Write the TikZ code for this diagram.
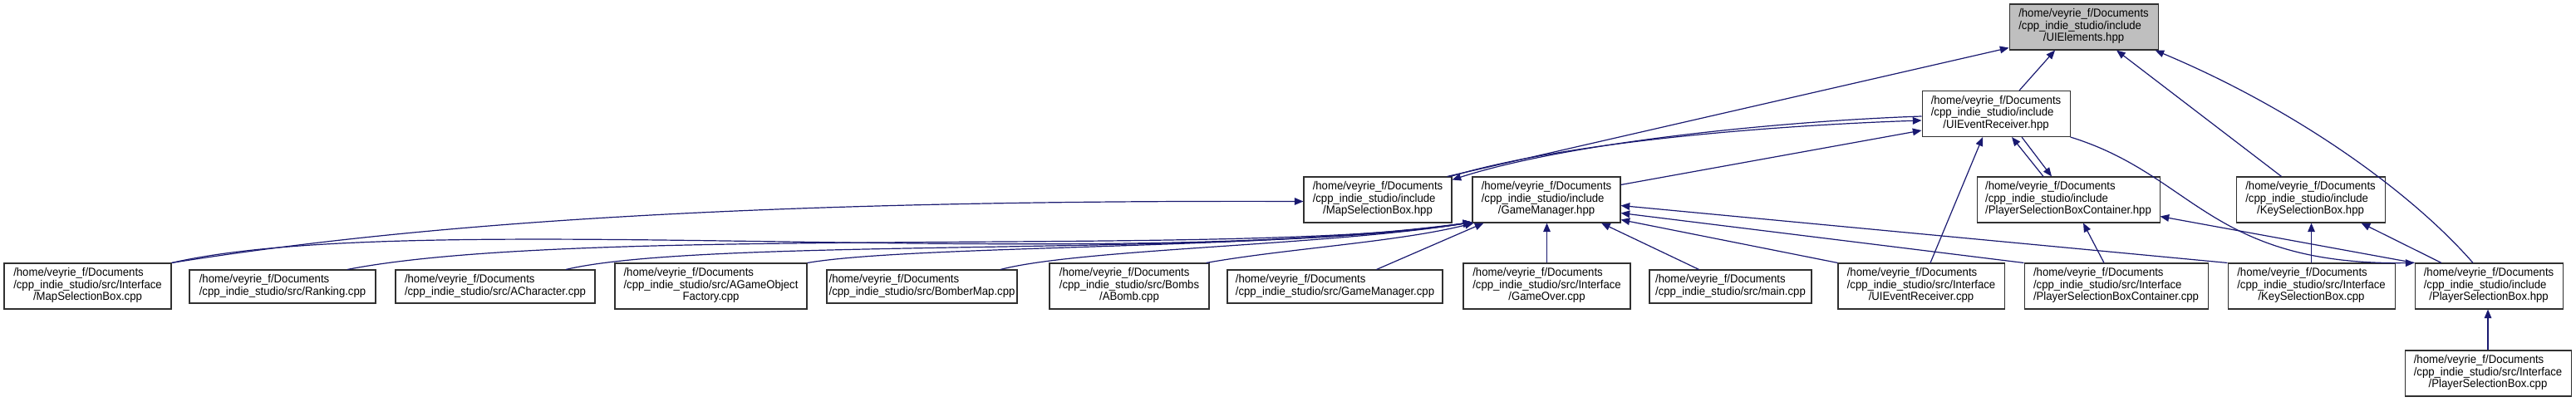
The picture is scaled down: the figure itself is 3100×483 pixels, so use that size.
\documentclass[tikz,border=0pt]{standalone}
\usepackage{fontspec}
\setmainfont{Liberation Sans}[FakeStretch=0.94]
\usetikzlibrary{arrows.meta,calc}
\definecolor{dxblue}{HTML}{191970}
\definecolor{dxgray}{HTML}{BFBFBF}
\definecolor{dxframe}{HTML}{303030}
\newcommand{\dochome}{/home/veyrie\_f/Documents}
\newcommand{\incdir}{/cpp\_indie\_studio/include}
\newcommand{\srcdir}{/cpp\_indie\_studio/src}
\newcommand{\tlab}[3]{\begin{tabular}{@{}l@{}}#1\\#2\\\multicolumn{1}{@{}c@{}}{#3}\end{tabular}}
\newcommand{\dlab}[2]{\begin{tabular}{@{}l@{}}#1\\#2\end{tabular}}
\tikzset{
  filebox/.style={draw=dxframe, fill=white, line width=0.8pt, inner sep=0pt,
    font=\fontsize{10.5}{10.9}\selectfont, minimum width=#1*0.75pt, minimum height=41.25pt},
  shortbox/.style={filebox=#1, minimum height=30pt},
  dep/.style={dxblue, line width=0.9pt, -{Triangle[length=8pt,width=6.5pt]}}
}

\begin{document}
\begin{tikzpicture}[x=0.75pt, y=-0.75pt]
 \useasboundingbox (0,0) rectangle (3100,483);
 \node[filebox=179, fill=dxgray] (UIEl) at (2507.5,32.5) {\tlab{\dochome}{\incdir}{/UIElements.hpp}};
 \node[filebox=178] (UIERhpp) at (2402,137) {\tlab{\dochome}{\incdir}{/UIEventReceiver.hpp}};
 \node[filebox=178] (MSBhpp) at (1658,240.5) {\tlab{\dochome}{\incdir}{/MapSelectionBox.hpp}};
 \node[filebox=178] (GMhpp) at (1861,240.5) {\tlab{\dochome}{\incdir}{/GameManager.hpp}};
 \node[filebox=220] (PSBChpp) at (2489,240.5) {\tlab{\dochome}{\incdir}{/PlayerSelectionBoxContainer.hpp}};
 \node[filebox=179] (KSBhpp) at (2780.5,240.5) {\tlab{\dochome}{\incdir}{/KeySelectionBox.hpp}};
 \node[filebox=201] (MSBcpp) at (105.5,344.5) {\tlab{\dochome}{\srcdir/Interface}{/MapSelectionBox.cpp}};
 \node[shortbox=224] (Ranking) at (340,345) {\dlab{\dochome}{\srcdir/Ranking.cpp}};
 \node[shortbox=240] (AChar) at (596,345) {\dlab{\dochome}{\srcdir/ACharacter.cpp}};
 \node[filebox=231] (AGOF) at (855.5,344.5) {\tlab{\dochome}{\srcdir/AGameObject}{Factory.cpp}};
 \node[shortbox=229] (BomberMap) at (1109.5,345) {\dlab{\dochome}{\srcdir/BomberMap.cpp}};
 \node[filebox=192] (ABomb) at (1359,344.5) {\tlab{\dochome}{\srcdir/Bombs}{/ABomb.cpp}};
 \node[shortbox=259] (GMcpp) at (1606.5,345) {\dlab{\dochome}{\srcdir/GameManager.cpp}};
 \node[filebox=201] (GameOver) at (1861.5,344.5) {\tlab{\dochome}{\srcdir/Interface}{/GameOver.cpp}};
 \node[shortbox=195] (Main) at (2082.5,345) {\dlab{\dochome}{\srcdir/main.cpp}};
 \node[filebox=200] (UIERcpp) at (2312,344.5) {\tlab{\dochome}{\srcdir/Interface}{/UIEventReceiver.cpp}};
 \node[filebox=221] (PSBCcpp) at (2546.5,344.5) {\tlab{\dochome}{\srcdir/Interface}{/PlayerSelectionBoxContainer.cpp}};
 \node[filebox=201] (KSBcpp) at (2781.5,344.5) {\tlab{\dochome}{\srcdir/Interface}{/KeySelectionBox.cpp}};
 \node[filebox=178] (PSBhpp) at (2995,344.5) {\tlab{\dochome}{\incdir}{/PlayerSelectionBox.hpp}};
 \node[filebox=200] (PSBcpp) at (2994,449.5) {\tlab{\dochome}{\srcdir/Interface}{/PlayerSelectionBox.cpp}};
 \draw[dep] ($(MSBhpp.north east)+(-6,0)$) -- ($(UIEl.south west)+(0,-3)$);
 \draw[dep] ($(UIERhpp.north)+(28,0)$) -- ($(UIEl.south)+(-34.5,0)$);
 \draw[dep] ($(KSBhpp.north)+(-35,0)$) -- ($(UIEl.south)+(39.5,0)$);
 \draw[dep] ($(PSBhpp.north)+(-19,0)$) .. controls +(-76,-87) and +(167,70) .. ($(UIEl.south east)+(-4,0)$);
 \draw[dep] ($(MSBhpp.north east)+(-2,0)$) .. controls +(150,-45) and +(-150,5) .. ($(UIERhpp.west)+(0,8)$);
 \draw[dep] ($(UIERhpp.west)+(0,3)$) .. controls +(-150,5) and +(150,-48) .. ($(MSBhpp.north east)+(0,4)$);
 \draw[dep] ($(GMhpp.north east)+(0,10)$) -- ($(UIERhpp.west)+(0,20)$);
 \draw[dep] ($(PSBChpp.north)+(-30,0)$) -- ($(UIERhpp.south)+(19,0)$);
 \draw[dep] ($(UIERhpp.south)+(31,0)$) -- ($(PSBChpp.north)+(-20,0)$);
 \draw[dep] ($(UIERcpp.north)+(11,0)$) -- ($(UIERhpp.south)+(-16,0)$);
 \draw[dep] (UIERhpp.south east) .. controls +(149,46) and +(-246,3) .. (PSBhpp.north west);
 \draw[dep] (PSBhpp.north west) -- ($(PSBChpp.south east)+(0,-8)$);
 \draw[dep] ($(PSBhpp.north)+(-57,0)$) -- ($(KSBhpp.south east)+(-29,0)$);
 \draw[dep] (KSBcpp.north) -- (KSBcpp.north |- KSBhpp.south);
 \draw[dep] ($(PSBCcpp.north)+(-14.5,0)$) -- ($(PSBChpp.south)+(18,0)$);
 \draw[dep] (PSBcpp.north) -- (PSBcpp.north |- PSBhpp.south);
 \draw[dep] (MSBcpp.north east) .. controls +(294,-47) and +(-669,-2) .. ($(MSBhpp.west)+(0,2)$);
 \draw[dep] (MSBcpp.north east) .. controls +(294,-67) and +(-472,63) .. ($(GMhpp.south west)+(0,-1)$);
 \draw[dep] ($(Ranking.north)+(78,0)$) .. controls +(282,-55) and +(-272,43) .. ($(GMhpp.south west)+(0,-1)$);
 \draw[dep] ($(AChar.north)+(85,0)$) .. controls +(169,-40) and +(-272,43) .. ($(GMhpp.south west)+(0,-1)$);
 \draw[dep] (AGOF.north east) .. controls +(129,-22) and +(-222,33) .. ($(GMhpp.south west)+(0,-1)$);
 \draw[dep] ($(BomberMap.north)+(94.5,0)$) .. controls +(96,-25) and +(-172,28) .. ($(GMhpp.south west)+(0,-1)$);
 \draw[dep] ($(ABomb.north east)+(-4,0)$) .. controls +(95,-17) and +(-92,23) .. ($(GMhpp.south west)+(2,0)$);
 \draw[dep] ($(GMcpp.north)+(50,0)$) -- ($(GMhpp.south west)+(14,0)$);
 \draw[dep] (GameOver.north) -- (GameOver.north |- GMhpp.south);
 \draw[dep] ($(Main.north)+(-38,0)$) -- ($(GMhpp.south)+(66,0)$);
 \draw[dep] (UIERcpp.north west) -- ($(GMhpp.south east)+(0,-4)$);
 \draw[dep] (PSBCcpp.north west) -- ($(GMhpp.east)+(0,16)$);
 \draw[dep] (KSBcpp.north west) -- ($(GMhpp.east)+(0,7)$);
\end{tikzpicture}
\end{document}
